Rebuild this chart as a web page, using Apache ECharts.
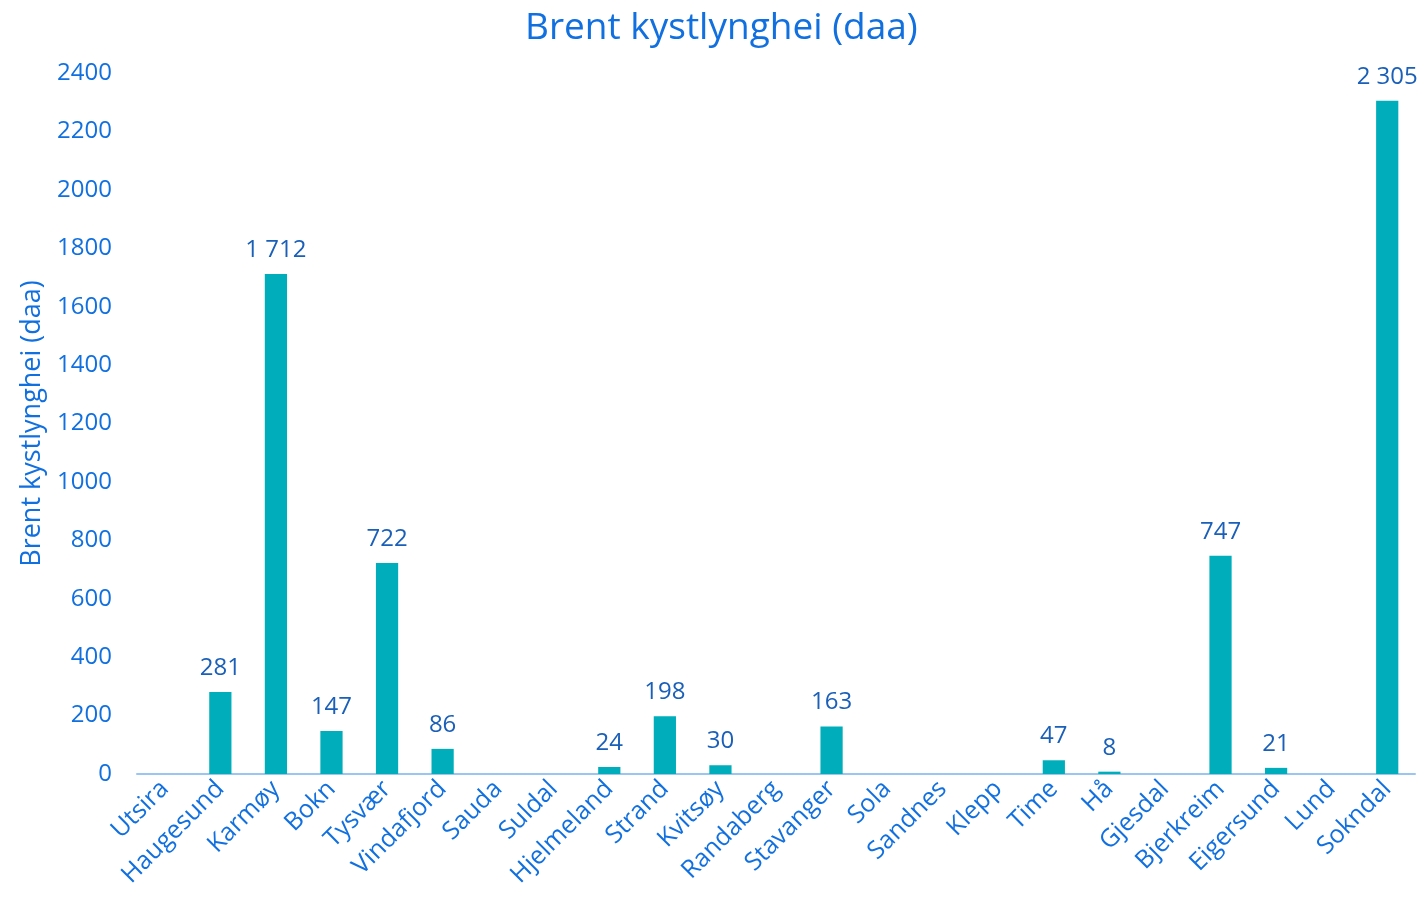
<!DOCTYPE html>
<html>
<head>
<meta charset="utf-8">
<title>Brent kystlynghei (daa)</title>
<script src="https://cdn.jsdelivr.net/npm/echarts@6/dist/echarts.min.js"></script>
<style>
  html, body { margin: 0; padding: 0; background: #fff; }
  #main { width: 1421px; height: 913px; }
</style>
</head>
<body>
<div id="main"></div>
<script>
// kommuner
var categories = ['Utsira', 'Haugesund', 'Karmøy', 'Bokn', 'Tysvær', 'Vindafjord', 'Sauda', 'Suldal',
  'Hjelmeland', 'Strand', 'Kvitsøy', 'Randaberg', 'Stavanger', 'Sola', 'Sandnes', 'Klepp', 'Time',
  'Hå', 'Gjesdal', 'Bjerkreim', 'Eigersund', 'Lund', 'Sokndal'];
// brent areal, daa
var values = [0, 281, 1712, 147, 722, 86, 0, 0, 24, 198, 30, 0, 163, 0, 0, 0, 47, 8, 0, 747, 21, 0, 2305];
var yTicks = [0, 200, 400, 600, 800, 1000, 1200, 1400, 1600, 1800, 2000, 2200, 2400];

var blue = '#1170e0';

function fmt(v) {
  // tusenskille med mellomrom
  return String(v).replace(/\B(?=(\d{3})+(?!\d))/g, ' ');
}

var chart = echarts.init(document.getElementById('main'), null, { renderer: 'canvas' });

var option = {
  animation: false,
  textStyle: { fontFamily: 'Open Sans' },
  title: {
    text: 'Brent kystlynghei (daa)',
    left: 520,
    top: 5,
    textStyle: { color: blue, fontSize: 37, fontWeight: 'normal', fontFamily: 'Open Sans' }
  },
  grid: { left: 137, right: 6, top: 73, bottom: 139 },
  xAxis: {
    type: 'category',
    data: categories,
    axisLine: { lineStyle: { color: '#9cc6f2', width: 2 } },
    axisTick: { show: false },
    axisLabel: {
      interval: 0,
      rotate: 45,
      color: blue,
      fontSize: 25,
      margin: 11
    }
  },
  yAxis: {
    type: 'value',
    min: yTicks[0],
    max: yTicks[yTicks.length - 1],
    interval: 200,
    name: 'Brent kystlynghei (daa)',
    nameLocation: 'middle',
    nameGap: 90,
    nameTextStyle: { color: blue, fontSize: 27 },
    splitLine: { show: false },
    axisLine: { show: false },
    axisTick: { show: false },
    axisLabel: {
      color: blue,
      fontSize: 24,
      margin: 25,
      formatter: function (v) { return String(v); }
    }
  },
  series: [{
    type: 'bar',
    data: values,
    barWidth: '40%',
    itemStyle: { color: '#00aebb' },
    label: {
      show: true,
      position: 'top',
      distance: 12,
      color: '#1a5fb8',
      fontSize: 24,
      formatter: function (p) { return p.value ? fmt(p.value) : ''; }
    }
  }]
};

chart.setOption(option);
</script>
</body>
</html>
